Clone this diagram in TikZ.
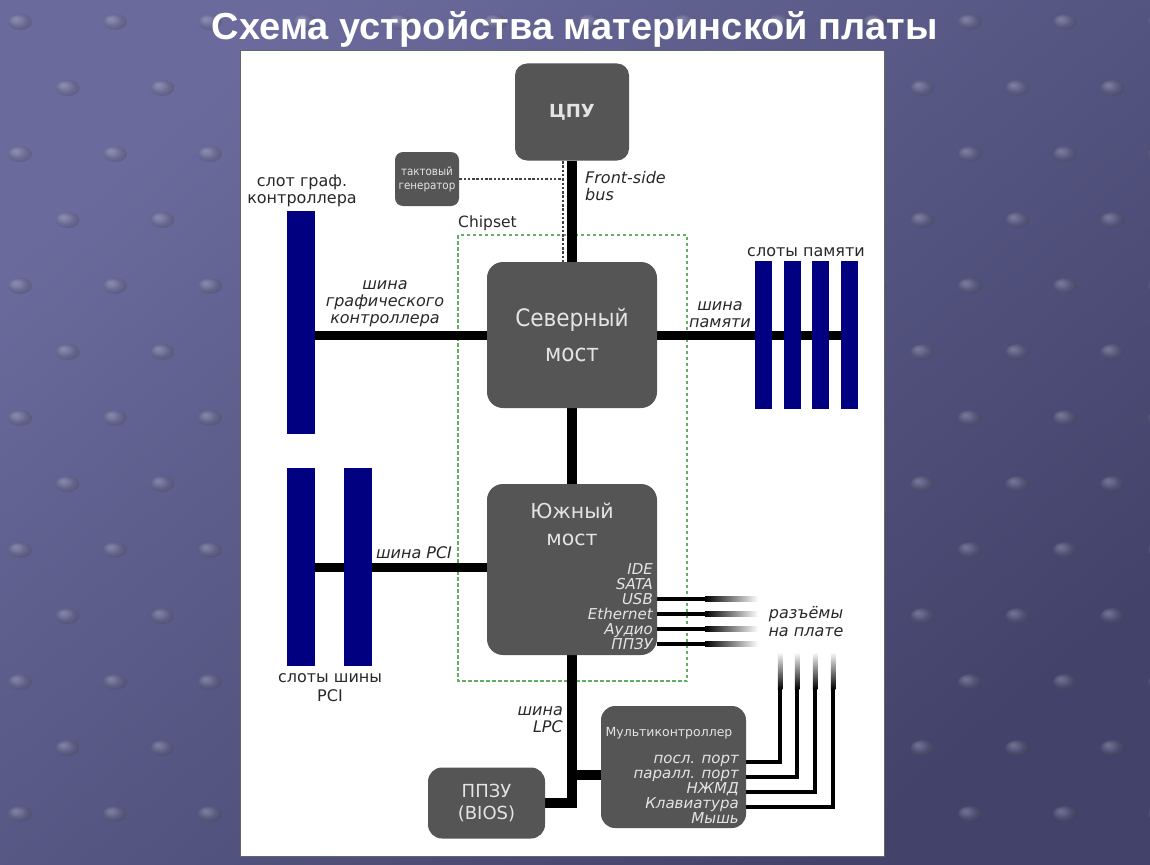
\documentclass[tikz,border=0pt]{standalone}
\usepackage{fontspec}
\setmainfont{DejaVu Sans}
\newfontfamily\titlefont{Liberation Sans}
\newfontfamily\condfont{DejaVu Sans Condensed}
\usetikzlibrary{calc}
\pgfdeclarelayer{bg}
\pgfdeclarelayer{buslayer}
\pgfsetlayers{bg,buslayer,main}
\definecolor{bgA}{RGB}{106,106,156}
\definecolor{bgB}{RGB}{66,66,106}
\definecolor{dotc}{RGB}{160,160,185}
\definecolor{boxgray}{RGB}{85,85,85}
\definecolor{boxtext}{RGB}{228,228,228}
\definecolor{lblgray}{RGB}{40,40,40}
\definecolor{slotblue}{RGB}{0,0,128}
\definecolor{chipgreen}{RGB}{100,175,100}
\newcommand{\fs}[2]{\fontsize{#1pt}{#2pt}\selectfont}
\tikzset{
  box/.style={fill=boxgray, rounded corners=#1, inner sep=0pt, text=boxtext, align=center},
  box/.default=14pt,
  slot/.style={fill=slotblue, inner sep=0pt},
  lbl/.style={text=lblgray, inner sep=0pt, align=center, font=\fs{16}{17}},
  ilbl/.style={text=lblgray, inner sep=0pt, align=center, font=\itshape\fs{16}{17}},
  bus/.style={line width=10pt, black},
  port/.style={line width=4.5pt, black},
  dotline/.style={line width=1.4pt, black!75, dash pattern=on 2.5pt off 1.8pt},
}
\begin{document}
\begin{tikzpicture}[x=1pt,y=-1pt]
\useasboundingbox (0,0) rectangle (1150,864);

% ---------- nodes ----------
\node[box=12pt, minimum width=114pt, minimum height=97pt, font=\bfseries\fs{18}{20}] (cpu) at (572,112) {ЦПУ};
\node[box=8pt, minimum width=64pt, minimum height=54pt, font=\condfont\fs{11.5}{14}] (clk) at (427,179) {тактовый\\генератор};
\node[box=16pt, minimum width=170pt, minimum height=146pt, font=\condfont\fs{24}{35}] (nb) at (572,335) {Северный\\мост};
\node[box=16pt, minimum width=170pt, minimum height=171pt] (sb) at (572,569.5) {};
\node[text=boxtext, inner sep=0pt, align=center, font=\fs{20.5}{27}] (sbt) at (572,524) {Южный\\мост};
\node[text=boxtext, inner sep=0pt, align=right, anchor=east, font=\itshape\fs{15}{15}] (sbp) at (653,607) {IDE\\SATA\\USB\\Ethernet\\Аудио\\ППЗУ};
\node[box=14pt, minimum width=117pt, minimum height=71pt, font=\fs{18}{22}] (bios) at (486.5,803) {ППЗУ\\(BIOS)};
\node[box=14pt, minimum width=145pt, minimum height=122pt] (mc) at (673.5,767) {};
\node[text=boxtext, inner sep=0pt, font=\fs{12.5}{14}] (mct) at (669,733) {Мультиконтроллер};
\node[text=boxtext, inner sep=0pt, align=right, anchor=east, font=\itshape\fs{15}{15}] (mcp) at (739,789) {посл. порт\\паралл. порт\\НЖМД\\Клавиатура\\Мышь};

\node[slot, minimum width=28pt, minimum height=223pt] (gs) at (301,322.5) {};
\node[slot, minimum width=17pt, minimum height=148pt] (m1) at (763.5,335) {};
\node[slot, minimum width=17pt, minimum height=148pt] (m2) at (792.5,335) {};
\node[slot, minimum width=17pt, minimum height=148pt] (m3) at (820.5,335) {};
\node[slot, minimum width=17pt, minimum height=148pt] (m4) at (849.5,335) {};
\node[slot, minimum width=28pt, minimum height=198pt] (p1) at (301,567) {};
\node[slot, minimum width=28pt, minimum height=198pt] (p2) at (358,567) {};

% ---------- labels ----------
\node[lbl] (lgs) at (302,191) {слот граф.\\контроллера};
\node[ilbl] (lgb) at (385,304) {шина\\графического\\контроллера};
\node[lbl] (lms) at (806,252) {слоты памяти};
\node[ilbl] (lmb) at (720,315) {шина\\памяти};
\node[ilbl] (lpb) at (414,553) {шина PCI};
\node[lbl, font=\fs{16}{19}] (lps) at (330,688) {слоты шины\\PCI};
\node[ilbl, font=\itshape\fs{16}{18}] (lcon) at (806,622) {разъёмы\\на плате};
\node[ilbl, align=right, anchor=east] (llpc) at (563,720) {шина\\LPC};
\node[lbl, anchor=west, font=\fs{15.5}{17}] (lchip) at (458,223) {Chipset};
\node[ilbl, align=left, anchor=west] (lfsb) at (585,186) {Front-side\\bus};

\coordinate (dtop) at (563,161);
\coordinate (pcibus) at (0,567);
\coordinate (lpcmc) at (572,775);

% ---------- background ----------
\begin{pgfonlayer}{bg}
  \shade[top color=bgA, bottom color=bgB, shading angle=40] (0,0) rectangle (1150,864);
  \foreach \i in {0,...,13}{
    \foreach \j in {0,...,12}{
      \pgfmathsetmacro\xx{20+95*\j+47.5*mod(\i,2)}
      \pgfmathsetmacro\yy{22+66*\i}
      \shade[ball color=dotc, opacity=0.28] (\xx,\yy) ellipse (12 and 8);
    }
  }
  \node[text=white, inner sep=0pt, font=\titlefont\bfseries\fs{36}{40}] (title) at (575,29)
    {\resizebox{726pt}{28pt}{Схема устройства материнской платы}};
  \fill[white, draw=black!60, line width=0.8pt] (240,50) rectangle (884,856);
  \draw[chipgreen, line width=1.2pt, dash pattern=on 3.5pt off 2.5pt] (458,235) rectangle (687,681);
\end{pgfonlayer}

% ---------- buses ----------
\begin{pgfonlayer}{buslayer}
  \draw[dotline] (clk.east) -- (clk.east -| dtop);
  \draw[dotline] (dtop) -- (dtop |- nb.north);
  \draw[bus] (cpu.south) -- (nb.north);
  \draw[bus] (nb.south) -- (sb.north);
  \draw[bus, line width=9pt] (gs.east |- nb.west) -- (nb.west);
  \draw[bus, line width=9pt] (nb.east) -- (m4.west);
  \draw[bus, line width=9pt] (p1.east |- pcibus) -- (sb.west |- pcibus);
  \draw[bus] (sb.south) |- (bios.east);
  \draw[bus] (lpcmc) -- (mc.west |- lpcmc);
  \foreach \y in {599,614,629,644}{
    \draw[port] (sb.east |- 0,\y) -- (706,\y);
    \shade[left color=black, right color=white] (705,\y-2.25) rectangle (758,\y+2.25);
  }
  \foreach \y/\x in {762/780,777/797,792/815,807/833}{
    \draw[port] (mc.east |- 0,\y) -| (\x,688);
    \shade[top color=white, bottom color=black] (\x-2.25,652) rectangle (\x+2.25,689);
  }
\end{pgfonlayer}
\end{tikzpicture}
\end{document}
